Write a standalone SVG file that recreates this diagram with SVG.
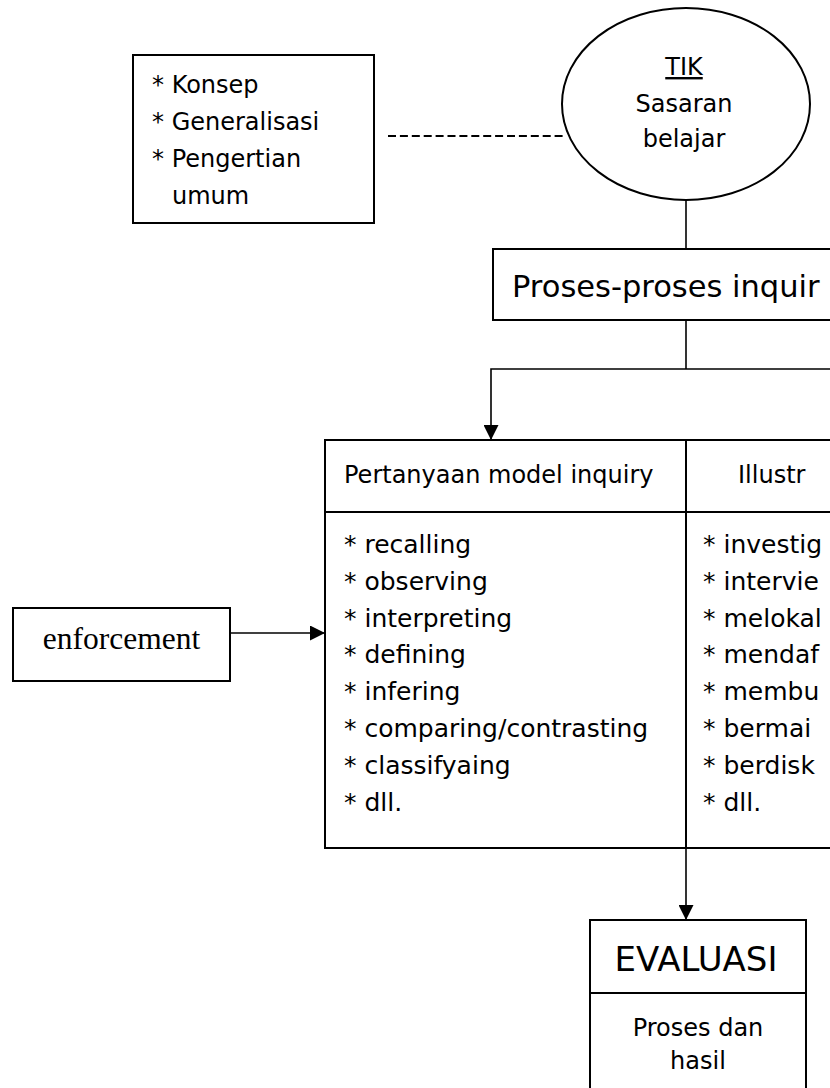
<svg xmlns="http://www.w3.org/2000/svg" width="830" height="1088" viewBox="0 0 830 1088">
<style>
.box{fill:#fff;stroke:#000;stroke-width:2}
.ln{fill:none;stroke:#000;stroke-width:2}
.con{fill:none;stroke:#000;stroke-width:1.6}
.dash{fill:none;stroke:#000;stroke-width:2.2;stroke-dasharray:8 3.9}
.t{font-family:"DejaVu Sans","Noto Sans",sans-serif;fill:#000}
.s24{font-size:24px}
.s25{font-size:25px}
</style>
<defs>
<marker id="ah" viewBox="0 0 10 10" refX="10" refY="5" markerWidth="15" markerHeight="15" markerUnits="userSpaceOnUse" orient="auto">
<path d="M0,0 L10,5 L0,10 z" fill="#000"/>
</marker>
</defs>
<rect width="830" height="1088" fill="#fff"/>

<g id="connectors">
<line class="dash" x1="388" y1="136" x2="564" y2="136"/>
<line class="con" x1="686" y1="200" x2="686" y2="249"/>
<line class="con" x1="686" y1="320" x2="686" y2="369"/>
<polyline class="con" points="830,369 491,369 491,440" marker-end="url(#ah)"/>
<line class="con" x1="230" y1="633" x2="325" y2="633" marker-end="url(#ah)"/>
<line class="con" x1="686" y1="848" x2="686" y2="920" marker-end="url(#ah)"/>
</g>

<g id="node-konsep">
<rect class="box" x="133" y="55" width="241" height="168"/>
<text class="t s24" x="152" y="93">* Konsep</text>
<text class="t s24" x="152" y="130">* Generalisasi</text>
<text class="t s24" x="152" y="167">* Pengertian</text>
<text class="t s24" x="172" y="204">umum</text>
</g>

<g id="node-tik">
<ellipse class="box" cx="686" cy="104" rx="124" ry="96"/>
<text class="t s24" x="684" y="75" text-anchor="middle" text-decoration="underline">TIK</text>
<text class="t s24" x="684" y="112" text-anchor="middle">Sasaran</text>
<text class="t s24" x="684" y="147" text-anchor="middle">belajar</text>
</g>

<g id="node-proses">
<path class="ln" d="M830,249 H493 V320 H830" fill="#fff"/>
<text class="t" font-size="30.5" x="512" y="297">Proses-proses inquir</text>
</g>

<g id="node-enforcement">
<rect class="box" x="13" y="608" width="217" height="73"/>
<text x="121.5" y="649" text-anchor="middle" font-family="'Liberation Serif','Times New Roman',serif" font-size="31.5">enforcement</text>
</g>

<g id="node-table">
<path class="ln" d="M830,440 H325 V848 H830 M325,512 H830 M686,440 V848"/>
<text class="t s24" x="344" y="483">Pertanyaan model inquiry</text>
<text class="t s24" x="738" y="483">Illustr</text>
<text class="t s25" x="344" y="553">* recalling</text>
<text class="t s25" x="344" y="590">* observing</text>
<text class="t s25" x="344" y="627">* interpreting</text>
<text class="t s25" x="344" y="663">* defining</text>
<text class="t s25" x="344" y="700">* infering</text>
<text class="t s25" x="344" y="737">* comparing/contrasting</text>
<text class="t s25" x="344" y="774">* classifyaing</text>
<text class="t s25" x="344" y="811">* dll.</text>
<text class="t s25" x="703" y="553">* investig</text>
<text class="t s25" x="703" y="590">* intervie</text>
<text class="t s25" x="703" y="627">* melokal</text>
<text class="t s25" x="703" y="663">* mendaf</text>
<text class="t s25" x="703" y="700">* membu</text>
<text class="t s25" x="703" y="737">* bermai</text>
<text class="t s25" x="703" y="774">* berdisk</text>
<text class="t s25" x="703" y="811">* dll.</text>
</g>

<g id="node-evaluasi">
<path class="ln" d="M590,1088 V920 H806 V1088 M590,993 H806"/>
<text class="t" font-size="34" x="696" y="971" text-anchor="middle">EVALUASI</text>
<text class="t s24" x="698" y="1036" text-anchor="middle">Proses dan</text>
<text class="t s24" x="698" y="1069" text-anchor="middle">hasil</text>
</g>
</svg>
